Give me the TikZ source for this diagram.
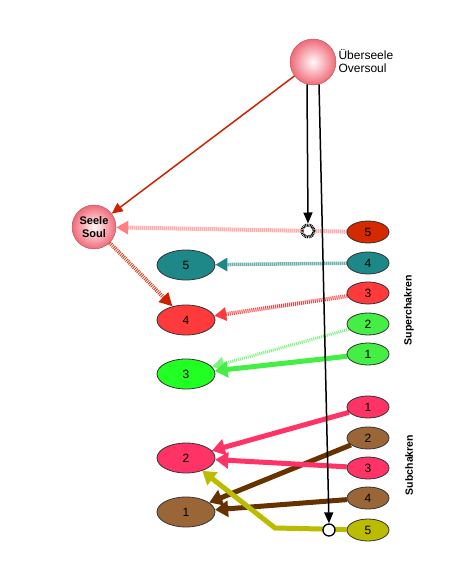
\documentclass[tikz,border=0pt]{standalone}
\usepackage{fontspec}
\setmainfont{Liberation Sans}
\usetikzlibrary{shapes.geometric,arrows.meta}
\pgfdeclarelayer{bg}
\pgfsetlayers{bg,main}
\definecolor{cSoul}{HTML}{F06A78}
\definecolor{cDark}{HTML}{D42A00}
\definecolor{cTeal}{HTML}{1E8888}
\definecolor{cRed}{HTML}{FF3A3A}
\definecolor{cLGreen}{HTML}{44EE44}
\definecolor{cGreen}{HTML}{44EE44}
\definecolor{cBGreen}{HTML}{22FF22}
\definecolor{cPink}{HTML}{FF3366}
\definecolor{cBrown}{HTML}{9A6638}
\definecolor{cDBrown}{HTML}{663300}
\definecolor{cOlive}{HTML}{BBBB00}
\definecolor{cOrange}{HTML}{CC2200}
\tikzset{
  sphere/.style={circle, minimum size=46pt, inner sep=0pt, draw=gray!70!red,
    shading=radial, inner color=white!92!pink, outer color=cSoul, font=\bfseries\fontsize{11}{12.5}\selectfont, align=center},
  rchak/.style={ellipse, minimum width=42pt, minimum height=22pt, inner sep=0pt, draw=black!80, line width=0.8pt, font=\fontsize{12}{13}\selectfont},
  lchak/.style={ellipse, minimum width=58pt, minimum height=30pt, inner sep=0pt, draw=black!80, line width=0.8pt, font=\fontsize{12}{13}\selectfont},
  stripe/.style={dash pattern=on 1pt off 1pt, line width=4pt},
  thick5/.style={line width=5pt},
  tri/.style={-{Triangle[length=12pt,width=13pt]}},
  bigtri/.style={-{Triangle[length=13pt,width=16pt]}},
  lbl/.style={font=\bfseries\fontsize{10.5}{12}\selectfont, rotate=90},
}
\begin{document}
\begin{tikzpicture}[x=1pt,y=-1pt]
\useasboundingbox (0,0) rectangle (454,588);
% spheres
\node[sphere] (over) at (313,62) {};
\node[anchor=west, align=left, font=\fontsize{12}{13}\selectfont] (overtxt) at (335,61) {Überseele\\Oversoul};
\node[sphere, minimum size=44pt] (soul) at (94,227) {Seele\\Soul};
% right column
\node[rchak, fill=cDark] (r5) at (368,232) {5};
\node[rchak, fill=cTeal] (r4) at (368,263) {4};
\node[rchak, fill=cRed] (r3) at (368,293) {3};
\node[rchak, fill=cLGreen] (r2) at (368,324) {2};
\node[rchak, fill=cGreen] (r1) at (368,354) {1};
\node[rchak, fill=cPink] (s1) at (368,407) {1};
\node[rchak, fill=cBrown] (s2) at (368,438) {2};
\node[rchak, fill=cPink] (s3) at (368,468) {3};
\node[rchak, fill=cBrown] (s4) at (368,498) {4};
\node[rchak, fill=cOlive] (s5) at (368,530) {5};
% left column
\node[lchak, fill=cTeal] (l5) at (186,265) {5};
\node[lchak, fill=cRed] (l4) at (186,320) {4};
\node[lchak, fill=cBGreen] (l3) at (186,374) {3};
\node[lchak, fill=cPink] (l2) at (186,458) {2};
\node[lchak, fill=cBrown] (l1) at (186,512) {1};
% hit markers
\node[circle, minimum size=12pt, inner sep=0pt, draw=black, fill=white, dash pattern=on 0.8pt off 0.8pt, line width=3pt] (h1) at (308,231) {};
\node[circle, minimum size=12pt, inner sep=0pt, draw=black, fill=white, line width=1.3pt] (h2) at (329,530) {};
% labels
\node[lbl] (sup) at (409,310) {Superchakren};
\node[lbl] (sub) at (409,465) {Subchakren};
\coordinate (bend) at (275,528);
\begin{pgfonlayer}{bg}
\draw[cOrange, line width=1.5pt, -{Triangle[length=11pt,width=10pt]}] (over) -- (soul);
\draw[stripe, draw=red!50, tri] (r5) -- (soul);
\draw[stripe, draw=cOrange!80, -{Triangle[length=13pt,width=13pt,fill=cOrange,color=cOrange]}] (soul) -- (l4);
\draw[stripe, line width=3.5pt, draw=cTeal, tri] (r4) -- (l5);
\draw[stripe, draw=cRed, tri] (r3) -- (l4);
\draw[stripe, line width=3pt, draw=cLGreen!70!white, tri] (r2) -- (l3);
\draw[thick5, draw=cGreen, bigtri] (r1) -- (l3);
\draw[thick5, draw=cPink, bigtri] (s1) -- (l2);
\draw[thick5, draw=cDBrown, bigtri] (s2) -- (l1);
\draw[thick5, draw=cPink, bigtri] (s3) -- (l2);
\draw[thick5, draw=cDBrown, bigtri] (s4) -- (l1);
\draw[thick5, draw=cOlive, bigtri] (s5) -- (bend) -- (l2);
\end{pgfonlayer}
\draw[black, line width=1.5pt, -{Triangle[length=11pt,width=9pt]}] (over.255) -- (h1.north);
\draw[black, line width=1.5pt, -{Triangle[length=11pt,width=9pt]}] (over.285) -- (h2.north);
\end{tikzpicture}
\end{document}
